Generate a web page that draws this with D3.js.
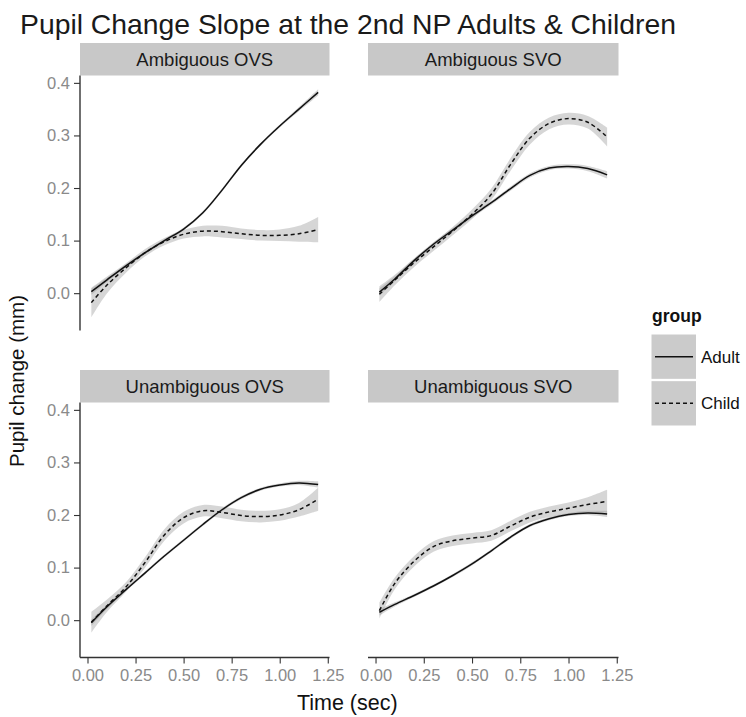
<!DOCTYPE html>
<html>
<head>
<meta charset="utf-8">
<script src="https://cdn.jsdelivr.net/npm/d3@7/dist/d3.min.js"></script>
<style>
  html, body { margin: 0; padding: 0; background: #fff; }
  svg { display: block; font-family: "Liberation Sans", Arial, Helvetica, sans-serif; }
</style>
</head>
<body>
<svg id="chart" width="746" height="717"></svg>
<script>
// ---------------- data ----------------
const titleText = "Pupil Change Slope at the 2nd NP Adults & Children";
const panels = ["Ambiguous OVS", "Ambiguous SVO", "Unambiguous OVS", "Unambiguous SVO"];
const groups = ["Adult", "Child"];
const time = [0.02, 0.1, 0.2, 0.3, 0.4, 0.5, 0.6, 0.7, 0.8, 0.9, 1.0, 1.1, 1.2];

const ambOvsAdult   = [0.003, 0.025, 0.052, 0.077, 0.100, 0.122, 0.153, 0.196, 0.243, 0.283, 0.318, 0.350, 0.382];
const ambOvsChild   = [-0.018, 0.015, 0.048, 0.077, 0.098, 0.112, 0.118, 0.117, 0.113, 0.110, 0.110, 0.113, 0.121];
const ambOvsAdultSe = [0.006, 0.004, 0.003, 0.003, 0.003, 0.003, 0.003, 0.003, 0.003, 0.003, 0.003, 0.004, 0.006];
const ambOvsChildSe = [0.028, 0.016, 0.009, 0.007, 0.007, 0.008, 0.010, 0.011, 0.010, 0.010, 0.011, 0.015, 0.024];

const ambSvoAdult   = [0.002, 0.027, 0.062, 0.093, 0.120, 0.147, 0.172, 0.199, 0.224, 0.238, 0.241, 0.237, 0.225];
const ambSvoChild   = [-0.002, 0.025, 0.058, 0.088, 0.118, 0.150, 0.188, 0.245, 0.295, 0.323, 0.332, 0.325, 0.297];
const ambSvoAdultSe = [0.007, 0.005, 0.004, 0.004, 0.004, 0.004, 0.004, 0.004, 0.004, 0.004, 0.004, 0.005, 0.007];
const ambSvoChildSe = [0.015, 0.010, 0.008, 0.008, 0.008, 0.009, 0.011, 0.012, 0.012, 0.011, 0.011, 0.012, 0.018];

const unOvsAdult    = [-0.005, 0.025, 0.058, 0.090, 0.122, 0.152, 0.182, 0.210, 0.233, 0.249, 0.257, 0.261, 0.258];
const unOvsChild    = [-0.004, 0.027, 0.063, 0.110, 0.162, 0.195, 0.208, 0.205, 0.199, 0.197, 0.200, 0.210, 0.230];
const unOvsAdultSe  = [0.006, 0.004, 0.003, 0.003, 0.003, 0.003, 0.003, 0.003, 0.003, 0.003, 0.003, 0.004, 0.006];
const unOvsChildSe  = [0.020, 0.012, 0.009, 0.010, 0.011, 0.011, 0.011, 0.011, 0.011, 0.011, 0.011, 0.013, 0.022];

const unSvoAdult    = [0.015, 0.030, 0.047, 0.065, 0.085, 0.107, 0.132, 0.158, 0.180, 0.193, 0.201, 0.204, 0.202];
const unSvoChild    = [0.018, 0.070, 0.112, 0.140, 0.151, 0.156, 0.161, 0.179, 0.196, 0.206, 0.213, 0.220, 0.226];
const unSvoAdultSe  = [0.006, 0.004, 0.003, 0.003, 0.003, 0.003, 0.003, 0.003, 0.003, 0.003, 0.003, 0.004, 0.006];
const unSvoChildSe  = [0.015, 0.011, 0.010, 0.010, 0.010, 0.010, 0.010, 0.010, 0.010, 0.010, 0.011, 0.014, 0.022];

const xTicks = [0, 0.25, 0.5, 0.75, 1.0, 1.25];
const yTicks = [0.0, 0.1, 0.2, 0.3, 0.4];
const xLabel = "Time (sec)";
const yLabel = "Pupil change (mm)";
const legendTitle = "group";

// --------------- assemble ---------------
const panelData = [
  { name: panels[0], series: [[ambOvsAdult, ambOvsAdultSe], [ambOvsChild, ambOvsChildSe]] },
  { name: panels[1], series: [[ambSvoAdult, ambSvoAdultSe], [ambSvoChild, ambSvoChildSe]] },
  { name: panels[2], series: [[unOvsAdult, unOvsAdultSe], [unOvsChild, unOvsChildSe]] },
  { name: panels[3], series: [[unSvoAdult, unSvoAdultSe], [unSvoChild, unSvoChildSe]] }
];

// --------------- layout ---------------
const cols = [{ x0: 80, x1: 329.5 }, { x0: 368, x1: 618.5 }];
const rows = [{ s0: 43, y0: 75.5, y1: 330.5 }, { s0: 370, y0: 402.5, y1: 657.5 }];
const xDomain = [-0.039, 1.259];
const yDomain = [-0.071, 0.414];
const axisColor = "#333";
const tickTextColor = "#8a8a8a";
const stripFill = "#c8c8c8";
const ribbonFill = "#999999";
const lineColor = "#111";
const dashes = [null, "4,3"];

const svg = d3.select("#chart");

svg.append("text")
  .attr("x", 20).attr("y", 33.5)
  .attr("font-size", 27.5)
  .attr("textLength", 656)
  .attr("lengthAdjust", "spacingAndGlyphs")
  .attr("fill", "#1a1a1a")
  .text(titleText);

panelData.forEach((p, i) => {
  const c = cols[i % 2], r = rows[Math.floor(i / 2)];
  const x = d3.scaleLinear().domain(xDomain).range([c.x0, c.x1]);
  const y = d3.scaleLinear().domain(yDomain).range([r.y1, r.y0]);
  const g = svg.append("g");

  // strip
  g.append("rect").attr("x", c.x0).attr("y", r.s0)
    .attr("width", c.x1 - c.x0).attr("height", r.y0 - r.s0)
    .attr("fill", stripFill);
  g.append("text")
    .attr("x", (c.x0 + c.x1) / 2).attr("y", (r.s0 + r.y0) / 2)
    .attr("dy", "0.36em")
    .attr("text-anchor", "middle")
    .attr("font-size", 18.5)
    .attr("fill", "#1a1a1a")
    .text(p.name);

  const clipId = "clip" + i;
  svg.append("clipPath").attr("id", clipId).append("rect")
    .attr("x", c.x0).attr("y", r.y0).attr("width", c.x1 - c.x0).attr("height", r.y1 - r.y0);
  const plot = g.append("g").attr("clip-path", `url(#${clipId})`);

  const curve = d3.curveCatmullRom.alpha(0.5);
  // ribbons first
  p.series.forEach(([vals, se]) => {
    const pts = time.map((t, k) => ({ t, v: vals[k], s: se[k] }));
    plot.append("path")
      .attr("d", d3.area().curve(curve)
        .x(d => x(d.t)).y0(d => y(d.v - d.s)).y1(d => y(d.v + d.s))(pts))
      .attr("fill", ribbonFill).attr("fill-opacity", 0.4);
  });
  p.series.forEach(([vals], gi) => {
    const pts = time.map((t, k) => ({ t, v: vals[k] }));
    plot.append("path")
      .attr("d", d3.line().curve(curve).x(d => x(d.t)).y(d => y(d.v))(pts))
      .attr("fill", "none").attr("stroke", lineColor)
      .attr("stroke-width", 1.5)
      .attr("stroke-dasharray", dashes[gi]);
  });

  // y axis on left column
  if (i % 2 === 0) {
    const ya = g.append("g").attr("transform", `translate(${c.x0},0)`)
      .call(d3.axisLeft(y).tickValues(yTicks).tickFormat(d3.format(".1f")).tickSize(6).tickPadding(4));
    ya.select(".domain").attr("stroke", axisColor).attr("stroke-width", 1.4)
      .attr("d", `M0,${r.y0}V${r.y1}`);
    ya.selectAll(".tick line").attr("stroke", axisColor).attr("stroke-width", 1.1);
    ya.selectAll(".tick text").attr("fill", tickTextColor)
      .attr("font-size", 16.5).attr("font-family", "Liberation Sans, Arial, sans-serif");
  }
  // x axis on bottom row
  if (i >= 2) {
    const xa = g.append("g").attr("transform", `translate(0,${r.y1})`)
      .call(d3.axisBottom(x).tickValues(xTicks).tickFormat(d3.format(".2f")).tickSize(6).tickPadding(6));
    xa.select(".domain").attr("stroke", axisColor).attr("stroke-width", 1.4)
      .attr("d", `M${c.x0},0H${c.x1}`);
    xa.selectAll(".tick line").attr("stroke", axisColor).attr("stroke-width", 1.1);
    xa.selectAll(".tick text").attr("fill", tickTextColor)
      .attr("font-size", 16.5).attr("font-family", "Liberation Sans, Arial, sans-serif");
  }
});

// axis titles
svg.append("text")
  .attr("x", (cols[0].x0 + cols[1].x1) / 2 - 2).attr("y", 709.5)
  .attr("text-anchor", "middle").attr("font-size", 21.5).attr("fill", "#111")
  .text(xLabel);
svg.append("text")
  .attr("transform", "translate(24,381) rotate(-90)")
  .attr("text-anchor", "middle").attr("font-size", 20.5).attr("fill", "#111")
  .text(yLabel);

// legend
const lg = svg.append("g");
lg.append("text").attr("x", 652).attr("y", 321.5)
  .attr("font-size", 17.5).attr("font-weight", "bold").attr("fill", "#111")
  .text(legendTitle);
const keyY = d3.scaleBand().domain(groups).range([334.5, 425.5]).paddingInner(0.05);
groups.forEach((gname, gi) => {
  const ky = keyY(gname), kh = keyY.bandwidth();
  lg.append("rect").attr("x", 651.5).attr("y", ky).attr("width", 44.5).attr("height", kh)
    .attr("fill", "#cbcbcb");
  lg.append("line").attr("x1", 655).attr("x2", 693)
    .attr("y1", ky + kh / 2).attr("y2", ky + kh / 2)
    .attr("stroke", lineColor).attr("stroke-width", 1.5)
    .attr("stroke-dasharray", dashes[gi]);
  lg.append("text").attr("x", 701).attr("y", ky + kh / 2).attr("dy", "0.36em")
    .attr("font-size", 17).attr("fill", "#111")
    .text(gname);
});
</script>
</body>
</html>
